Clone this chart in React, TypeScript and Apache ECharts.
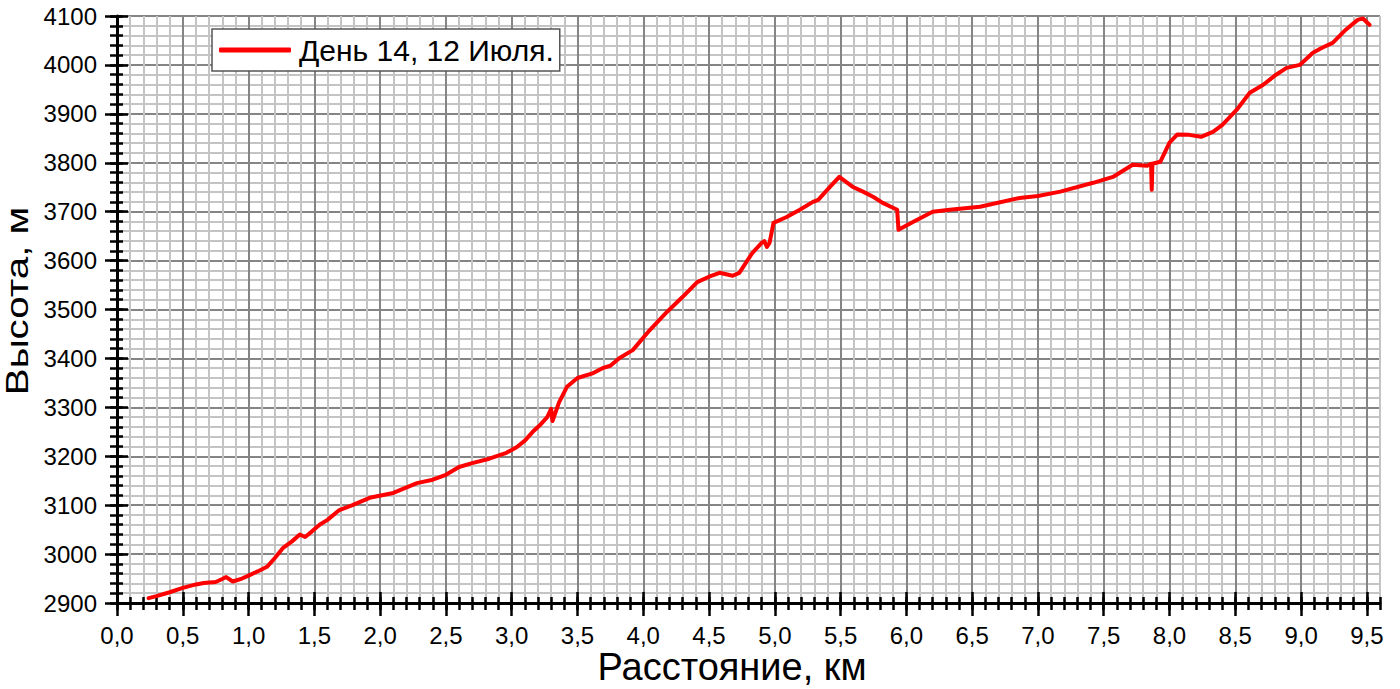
import React, { useEffect, useRef } from "react";
import * as echarts from "echarts";

const distanceKm = [
  0.24, 0.3, 0.4, 0.5, 0.6, 0.66, 0.75, 0.8, 0.83, 0.88, 0.95, 1.0, 1.08, 1.14, 1.2, 1.26, 1.33, 1.39, 1.43, 1.48,
  1.54, 1.6, 1.69, 1.79, 1.92, 2.1, 2.28, 2.4, 2.5, 2.6, 2.7, 2.83, 2.96, 3.04, 3.1, 3.16, 3.22, 3.27, 3.3, 3.31,
  3.36, 3.42, 3.5, 3.62, 3.69, 3.75, 3.82, 3.92, 4.05, 4.18, 4.3, 4.41, 4.5, 4.58, 4.68, 4.73, 4.83, 4.9, 4.92, 4.94,
  4.96, 4.99, 5.09, 5.19, 5.29, 5.33, 5.4, 5.49, 5.59, 5.67, 5.75, 5.82, 5.93, 5.94, 6.05, 6.2, 6.33, 6.56, 6.86, 7.0,
  7.17, 7.42, 7.57, 7.72, 7.83, 7.86, 7.865, 7.87, 7.93, 8.0, 8.06, 8.15, 8.24, 8.33, 8.4, 8.51, 8.61, 8.71, 8.81, 8.89,
  8.99, 9.09, 9.16, 9.24, 9.34, 9.43, 9.47, 9.52,
];
const elevationM = [
  2910, 2914, 2922, 2931, 2938, 2941, 2943, 2949, 2953, 2944, 2950, 2956, 2966, 2974, 2992, 3012, 3026, 3040, 3035, 3046,
  3060, 3070, 3090, 3100, 3115, 3125, 3145, 3152, 3162, 3178, 3186, 3195, 3207, 3219, 3232, 3250, 3265, 3280, 3297, 3272,
  3310, 3342, 3360, 3370, 3380, 3385, 3401, 3417, 3458, 3495, 3526, 3556, 3567, 3575, 3569, 3575, 3616, 3636, 3640, 3628,
  3636, 3677, 3689, 3704, 3720, 3724, 3745, 3771, 3751, 3741, 3730, 3718, 3704, 3663, 3679, 3700, 3704, 3710, 3728, 3732,
  3741, 3759, 3771, 3796, 3794, 3798, 3745, 3798, 3802, 3841, 3858, 3857, 3853, 3863, 3877, 3908, 3943, 3959, 3980, 3994,
  4000, 4025, 4035, 4045, 4072, 4092, 4095, 4082,
];
const xMajorTicks = [0, 0.5, 1, 1.5, 2, 2.5, 3, 3.5, 4, 4.5, 5, 5.5, 6, 6.5, 7, 7.5, 8, 8.5, 9, 9.5];
const seriesName = "День 14, 12 Июля.";
const xTitle = "Расстояние, км";
const yTitle = "Высота, м";

const FONT = "'Liberation Sans', Arial, sans-serif";
const MINOR = "#c4c4c4";
const MAJOR = "#858585";

export default function App() {
  const ref = useRef<HTMLDivElement>(null);
  useEffect(() => {
    if (!ref.current) return;
    const chart = echarts.init(ref.current, null, { renderer: "svg" });
    const xRange = { min: 0, max: 9.6 };
    const yRange = { min: 2900, max: 4100 };
    const majorXColors = xMajorTicks.map(() => MAJOR).concat(["rgba(0,0,0,0)"]);
    const hidden = { show: false };
    chart.setOption({
      animation: false,
      backgroundColor: "#ffffff",
      textStyle: { fontFamily: FONT },
      grid: { left: 117, right: 20, top: 16, bottom: 86, containLabel: false },
      legend: {
        left: 212,
        top: 29,
        icon: "roundRect",
        itemWidth: 72,
        itemHeight: 5,
        padding: [6, 6, 6, 7],
        backgroundColor: "#ffffff",
        borderColor: "#555555",
        borderWidth: 1.5,
        borderRadius: 0,
        textStyle: { fontSize: 30, lineHeight: 30, color: "#000", fontFamily: FONT, padding: [0, 0, 0, 3] },
        data: [seriesName],
      },
      xAxis: [
        {
          type: "value", ...xRange, interval: 0.1, position: "bottom", offset: -6,
          axisLine: hidden, axisLabel: hidden,
          axisTick: { show: true, length: 13, lineStyle: { color: "#000", width: 2.5 } },
          splitLine: { show: true, lineStyle: { color: MINOR, width: 2 } },
        },
        {
          type: "value", ...xRange, interval: 0.5, position: "bottom", offset: -11,
          axisLine: hidden, axisLabel: hidden,
          axisTick: { show: true, length: 24, customValues: xMajorTicks, lineStyle: { color: "#000", width: 2.5 } },
          splitLine: { show: true, lineStyle: { color: majorXColors, width: 2 } },
        },
        {
          type: "value", ...xRange, interval: 0.5, position: "bottom", offset: 0,
          axisLine: { show: true, onZero: false, lineStyle: { color: "#000", width: 3 } },
          axisTick: hidden, splitLine: hidden,
          axisLabel: {
            show: true, margin: 20, fontSize: 24, color: "#000", fontFamily: FONT,
            customValues: xMajorTicks,
            formatter: (v: number) => {
              const r = Math.round(v * 10) / 10;
              return Math.abs(r * 2 - Math.round(r * 2)) < 1e-6 ? r.toFixed(1).replace(".", ",") : "";
            },
          },
        },
      ],
      yAxis: [
        {
          type: "value", ...yRange, interval: 20, position: "left", offset: -6,
          axisLine: hidden, axisLabel: hidden,
          axisTick: { show: true, length: 13, lineStyle: { color: "#000", width: 2.5 } },
          splitLine: { show: true, lineStyle: { color: MINOR, width: 2 } },
        },
        {
          type: "value", ...yRange, interval: 100, position: "left", offset: -11,
          axisLine: hidden, axisLabel: hidden,
          axisTick: { show: true, length: 23, lineStyle: { color: "#000", width: 2.5 } },
          splitLine: { show: true, lineStyle: { color: MAJOR, width: 2 } },
        },
        {
          type: "value", ...yRange, interval: 100, position: "left", offset: 0,
          axisLine: { show: true, onZero: false, lineStyle: { color: "#000", width: 3 } },
          axisTick: hidden, splitLine: hidden,
          axisLabel: {
            show: true, margin: 20, fontSize: 24, color: "#000", fontFamily: FONT,
            formatter: (v: number) => String(Math.round(v)),
          },
        },
      ],
      graphic: [
        {
          type: "text", x: 732, y: 667,
          style: { text: xTitle, fontSize: 38, fill: "#000", fontFamily: FONT, align: "center", verticalAlign: "middle" },
        },
        {
          type: "text", x: 17, y: 301, rotation: Math.PI / 2, scaleX: 1.3,
          style: { text: yTitle, fontSize: 31, fill: "#000", fontFamily: FONT, align: "center", verticalAlign: "middle" },
        },
      ],
      series: [
        {
          name: seriesName,
          type: "line",
          xAxisIndex: 2,
          yAxisIndex: 2,
          showSymbol: false,
          symbol: "none",
          lineStyle: { color: "#ff0000", width: 4, join: "round", cap: "round" },
          itemStyle: { color: "#ff0000" },
          data: distanceKm.map((d, i) => [d, elevationM[i]]),
          z: 5,
        },
      ],
    });
    return () => chart.dispose();
  }, []);
  return <div ref={ref} style={{ position: "fixed", left: 0, top: 0, width: 1400, height: 689 }} />;
}
